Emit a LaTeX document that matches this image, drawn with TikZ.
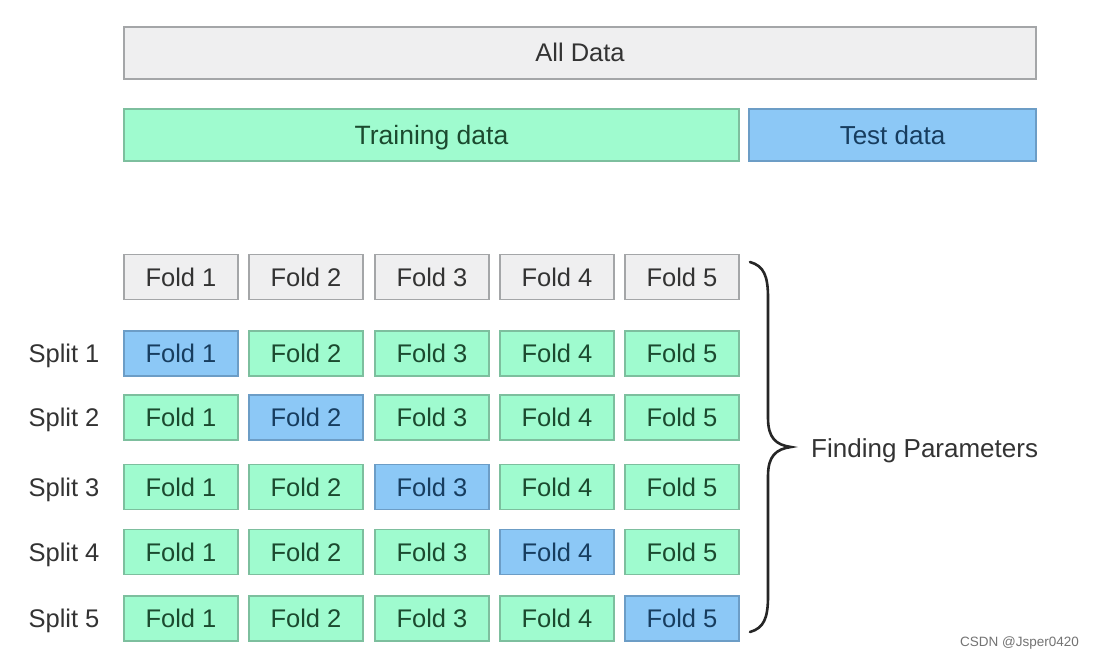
\documentclass[tikz,border=0pt]{standalone}
\usepackage{fontspec}
\setmainfont{Liberation Sans}
\begin{document}
\begin{tikzpicture}[x=1pt,y=-1pt,
  box/.style={draw, line width=1.3pt, inner sep=0pt, text height=18pt, text depth=0pt, font=\fontsize{25.5}{28}\selectfont},
  graybox/.style={box, fill=grayF, draw=grayD, text=grayT},
  greenbox/.style={box, fill=greenF, draw=greenD, text=greenT},
  bluebox/.style={box, fill=blueF, draw=blueD, text=blueT},
  fold/.style={minimum width=114pt, minimum height=45pt},
  lbl/.style={font=\fontsize{25.5}{28}\selectfont, text=grayT, inner sep=0pt, text height=18pt, text depth=0pt}
]
\definecolor{grayF}{HTML}{EFEFF0}
\definecolor{grayD}{HTML}{A4A6A8}
\definecolor{grayT}{HTML}{333333}
\definecolor{greenF}{HTML}{9FFBCF}
\definecolor{greenD}{HTML}{7DBF9E}
\definecolor{greenT}{HTML}{1B4A2F}
\definecolor{blueF}{HTML}{8CC8F6}
\definecolor{blueD}{HTML}{6C9DC6}
\definecolor{blueT}{HTML}{173D5F}
\useasboundingbox (0,0) rectangle (1094,661);
\fill[white] (0,0) rectangle (1094,661);
% top bars
\node[graybox, minimum width=912pt, minimum height=52pt] (all) at (580,53) {All Data};
\node[greenbox, minimum width=615pt, minimum height=52pt, font=\fontsize{26.5}{28}\selectfont] (train) at (431.5,135) {Training data};
\node[bluebox, minimum width=287pt, minimum height=52pt, font=\fontsize{26}{28}\selectfont] (test) at (892.5,135) {Test data};
% header folds
\foreach \i/\x in {1/181,2/306,3/432,4/557,5/682}{
  \node[graybox, fold] (h\i) at (\x,277) {Fold \i};
}
% splits
\foreach \s/\y in {1/353.5,2/417.5,3/487,4/552,5/618.5}{
  \node[lbl] (s\s) at (64,\y) {Split \s};
  \foreach \i/\x in {1/181,2/306,3/432,4/557,5/682}{
    \ifnum\i=\s
      \node[bluebox, fold] (f\s\i) at (\x,\y) {Fold \i};
    \else
      \node[greenbox, fold] (f\s\i) at (\x,\y) {Fold \i};
    \fi
  }
}
% brace
\coordinate (btop) at (750,262);
\coordinate (btip) at (791,447);
\coordinate (bbot) at (750,632);
\draw[line width=2.6pt, color=black!85, line cap=round]
  (btop) .. controls (764,266) and (768,276) .. (768,298)
  -- (768,418) .. controls (768,438) and (776,445) .. (btip)
  .. controls (776,449) and (768,456) .. (768,476)
  -- (768,596) .. controls (768,618) and (764,628) .. (bbot);
\node[lbl, anchor=west, font=\fontsize{26}{28}\selectfont] (fp) at (811,448) {Finding Parameters};
\node[font=\fontsize{13.5}{16}\selectfont, text=black!55, anchor=east, inner sep=0pt] (wm) at (1079,643) {CSDN @Jsper0420};
\end{tikzpicture}
\end{document}
